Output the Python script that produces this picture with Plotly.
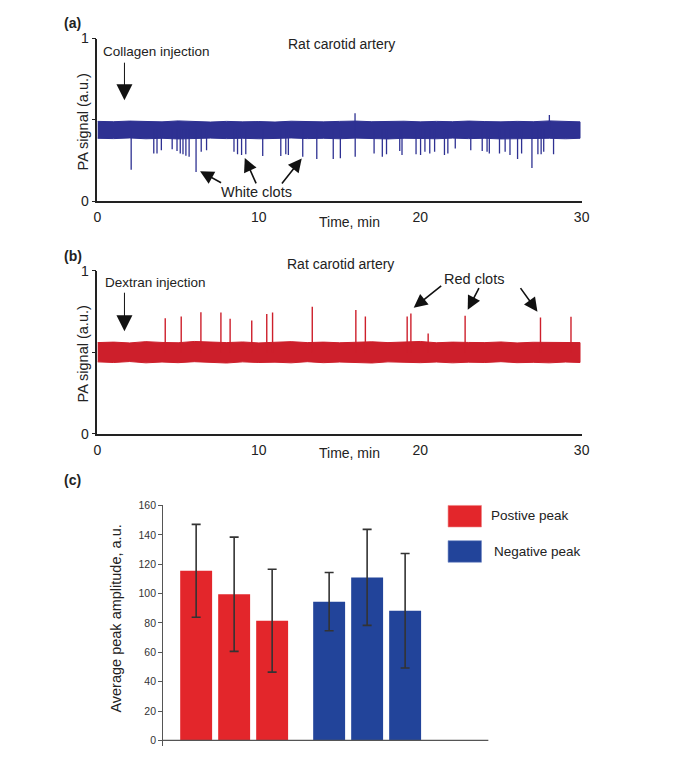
import plotly.graph_objects as go

# Page is 688x774; the HTML body keeps its default 8px margin, so the figure is
# made 16px smaller and every page-pixel position is shifted by that margin.
PAGE_W, PAGE_H = 688, 774
OFF = 8
W, H = PAGE_W - 2 * OFF, PAGE_H - 2 * OFF
FONT = "Liberation Sans, Arial, sans-serif"

# ---------------- data ----------------
# Panel (a): white clots (negative spikes) on a noisy baseline
env_t = [0, 1, 2, 3, 4, 5, 6, 7, 8, 9, 10, 11, 12, 13, 14, 15, 16, 17, 18, 19,
         20, 21, 22, 23, 24, 25, 26, 27, 28, 29, 29.9]
band_a_top = [0.490, 0.488, 0.492, 0.489, 0.487, 0.493, 0.488, 0.486, 0.490, 0.487,
              0.489, 0.486, 0.491, 0.488, 0.487, 0.490, 0.492, 0.488, 0.489, 0.491,
              0.487, 0.490, 0.488, 0.492, 0.489, 0.487, 0.490, 0.488, 0.493, 0.489, 0.487]
band_a_bot = [0.386, 0.384, 0.388, 0.383, 0.386, 0.382, 0.385, 0.387, 0.384, 0.386,
              0.383, 0.385, 0.388, 0.384, 0.386, 0.383, 0.387, 0.384, 0.382, 0.386,
              0.385, 0.383, 0.387, 0.384, 0.386, 0.382, 0.385, 0.384, 0.386, 0.383, 0.386]
baseline_a = 0.44
spikes_a_t = [2.09, 3.49, 3.69, 3.96, 4.63, 4.93, 5.13, 5.30, 5.48, 5.68,
              6.11, 6.43, 6.76, 8.46, 8.68, 8.93, 9.19, 10.24, 11.36, 11.67,
              11.83, 12.72, 13.59, 14.61, 15.05, 15.97, 17.14, 17.65, 17.91, 18.73,
              18.87, 19.74, 20.02, 20.29, 20.59, 20.89, 21.50, 21.71, 22.17, 23.13,
              23.84, 24.14, 24.28, 24.91, 25.26, 25.56, 26.03, 26.28, 26.92, 27.29,
              27.49, 27.65, 28.26]
spikes_a_v = [0.193, 0.293, 0.293, 0.313, 0.319, 0.307, 0.293, 0.287, 0.279, 0.273,
              0.179, 0.303, 0.313, 0.303, 0.287, 0.283, 0.287, 0.277, 0.277, 0.287,
              0.283, 0.273, 0.259, 0.259, 0.263, 0.273, 0.293, 0.273, 0.287, 0.307,
              0.283, 0.287, 0.283, 0.303, 0.293, 0.303, 0.283, 0.293, 0.323, 0.313,
              0.307, 0.303, 0.293, 0.293, 0.303, 0.283, 0.259, 0.293, 0.203, 0.287,
              0.287, 0.303, 0.287]
up_a_t = [15.96, 28.0]
up_a_v = [0.540, 0.530]

# Panel (b): red clots (positive spikes)
band_b_top = [0.560, 0.563, 0.558, 0.566, 0.561, 0.559, 0.567, 0.562, 0.560, 0.564,
              0.558, 0.562, 0.566, 0.560, 0.563, 0.559, 0.561, 0.565, 0.560, 0.562,
              0.567, 0.559, 0.563, 0.561, 0.560, 0.564, 0.558, 0.562, 0.561, 0.563, 0.560]
band_b_bot = [0.442, 0.438, 0.444, 0.436, 0.441, 0.437, 0.443, 0.439, 0.435, 0.442,
              0.438, 0.440, 0.436, 0.443, 0.437, 0.441, 0.438, 0.435, 0.442, 0.439,
              0.437, 0.441, 0.436, 0.440, 0.438, 0.443, 0.437, 0.439, 0.436, 0.441, 0.438]
baseline_b = 0.50
spikes_b_t = [4.20, 5.19, 6.41, 7.65, 8.22, 9.56, 10.49, 10.85, 13.31,
              16.01, 16.60, 19.19, 19.42, 20.49, 22.78, 27.45, 29.34]
spikes_b_v = [0.710, 0.720, 0.746, 0.744, 0.706, 0.696, 0.736, 0.744, 0.780,
              0.760, 0.720, 0.720, 0.738, 0.616, 0.724, 0.714, 0.718]

# Panel (c): average peak amplitude
pos_vals = [115.5, 99.5, 81.5]
pos_err = [31.6, 38.9, 35.0]
neg_vals = [94.5, 111.0, 88.3]
neg_err = [19.8, 32.7, 39.0]
y_ticks_c = [0, 20, 40, 60, 80, 100, 120, 140, 160]
x_ticks_ab = [0, 10, 20, 30]

BLUE_LINE = "#2E3192"
RED_LINE = "#CD1F2B"
RED_BAR = "#E3262B"
BLUE_BAR = "#22449A"


def px_x(p):
    return (p - OFF) / W


def px_y(p):
    return 1 - (p - OFF) / H


def spike_xy(ts, vs, base):
    xs, ys = [], []
    for t, v in zip(ts, vs):
        xs += [t, t, None]
        ys += [base, v, None]
    return xs, ys


fig = go.Figure()

# ---- panel (a) ----
fig.add_trace(go.Scatter(x=env_t + env_t[::-1], y=band_a_top + band_a_bot[::-1],
                         fill="toself", fillcolor=BLUE_LINE, mode="lines",
                         line=dict(color=BLUE_LINE, width=1), xaxis="x", yaxis="y",
                         hoverinfo="skip"))
sx, sy = spike_xy(spikes_a_t, spikes_a_v, baseline_a)
fig.add_trace(go.Scatter(x=sx, y=sy, mode="lines", line=dict(color=BLUE_LINE, width=1.3),
                         xaxis="x", yaxis="y", hoverinfo="skip"))
sx, sy = spike_xy(up_a_t, up_a_v, baseline_a)
fig.add_trace(go.Scatter(x=sx, y=sy, mode="lines", line=dict(color=BLUE_LINE, width=1.3),
                         xaxis="x", yaxis="y", hoverinfo="skip"))

# ---- panel (b) ----
fig.add_trace(go.Scatter(x=env_t + env_t[::-1], y=band_b_top + band_b_bot[::-1],
                         fill="toself", fillcolor=RED_LINE, mode="lines",
                         line=dict(color=RED_LINE, width=1), xaxis="x2", yaxis="y2",
                         hoverinfo="skip"))
sx, sy = spike_xy(spikes_b_t, spikes_b_v, baseline_b)
fig.add_trace(go.Scatter(x=sx, y=sy, mode="lines", line=dict(color=RED_LINE, width=1.4),
                         xaxis="x2", yaxis="y2", hoverinfo="skip"))

# ---- panel (c) ----
group_gap = 0.5
pos_x = [1 + i for i in range(len(pos_vals))]
neg_x = [pos_x[-1] + 1 + group_gap + i for i in range(len(neg_vals))]
err_style = dict(type="data", visible=True, color="#333333", thickness=1.6, width=4.5)
fig.add_trace(go.Bar(x=pos_x, y=pos_vals, width=0.84, marker=dict(color=RED_BAR, line=dict(width=0)),
                     error_y=dict(array=pos_err, **err_style), xaxis="x3", yaxis="y3",
                     name="Postive peak"))
fig.add_trace(go.Bar(x=neg_x, y=neg_vals, width=0.84, marker=dict(color=BLUE_BAR, line=dict(width=0)),
                     error_y=dict(array=neg_err, **err_style), xaxis="x3", yaxis="y3",
                     name="Negative peak"))

axis_ts = dict(showgrid=False, zeroline=False, showline=True, linecolor="#222222",
               linewidth=1.5, tickfont=dict(family=FONT, size=14, color="#222222"))

fig.update_layout(
    width=W, height=H, margin=dict(l=0, r=0, t=0, b=0),
    paper_bgcolor="white", plot_bgcolor="white", showlegend=False,
    font=dict(family=FONT, color="#222222"),
    xaxis=dict(domain=[px_x(95), px_x(588)], range=[0, 30], anchor="y",
               tickvals=x_ticks_ab, ticks="", ticklabelstandoff=2, **axis_ts),
    yaxis=dict(domain=[px_y(197), px_y(31)], range=[0, 1], anchor="x",
               tickvals=[0, 0.5, 1], ticktext=["0", "", "1"], ticks="outside",
               ticklen=4, tickcolor="#222222", tickwidth=1.3, **axis_ts),
    xaxis2=dict(domain=[px_x(95), px_x(588)], range=[0, 30], anchor="y2",
                tickvals=x_ticks_ab, ticks="", ticklabelstandoff=2, **axis_ts),
    yaxis2=dict(domain=[px_y(435), px_y(268.3)], range=[0, 1], anchor="x2",
                tickvals=[0, 0.5, 1], ticktext=["0", "", "1"], ticks="outside",
                ticklen=4, tickcolor="#222222", tickwidth=1.3, **axis_ts),
    xaxis3=dict(domain=[px_x(162), px_x(493)], range=[0.134, 8.69], anchor="y3",
                showgrid=False, zeroline=False, showline=False, showticklabels=False,
                ticks=""),
    yaxis3=dict(domain=[px_y(753.25), px_y(508)], range=[-3.5, 160], anchor="x3",
                tickvals=y_ticks_c, ticks="outside", ticklen=4, tickcolor="#555555",
                tickwidth=1.1, showline=True, linecolor="#555555", linewidth=1.2,
                showgrid=False, zeroline=False,
                tickfont=dict(family=FONT, size=10.5, color="#333333")),
)

# x-axis baseline for panel (c)
fig.add_shape(type="line", xref="paper", yref="y3", x0=px_x(161.5), x1=px_x(493),
              y0=0, y1=0, line=dict(color="#555555", width=1.2))

# legend swatches for panel (c)
fig.add_shape(type="rect", xref="paper", yref="paper", x0=px_x(452), x1=px_x(486),
              y0=px_y(530), y1=px_y(508), fillcolor=RED_BAR, line=dict(width=0.6, color="#f08080"))
fig.add_shape(type="rect", xref="paper", yref="paper", x0=px_x(452), x1=px_x(486),
              y0=px_y(566), y1=px_y(544), fillcolor=BLUE_BAR, line=dict(width=0.6, color="#6f86c4"))


def text(x, y, s, size=14, xanchor="center", bold=False, angle=0):
    fig.add_annotation(x=px_x(x), y=px_y(y), xref="paper", yref="paper",
                       text=f"<b>{s}</b>" if bold else s, showarrow=False,
                       xanchor=xanchor, yanchor="middle", textangle=angle,
                       font=dict(family=FONT, size=size, color="#222222"))


def arrow(hx, hy, tx, ty, head=2, size=1.7, width=1.6):
    fig.add_annotation(x=px_x(hx), y=px_y(hy), xref="paper", yref="paper",
                       ax=tx - hx, ay=ty - hy, axref="pixel", ayref="pixel",
                       text="", showarrow=True, arrowhead=head, arrowsize=size,
                       arrowwidth=width, arrowcolor="#111111")


# panel labels
text(70, 15, "(a)", 14, bold=True)
text(70, 253.5, "(b)", 14, bold=True)
text(70, 481.5, "(c)", 14, bold=True)

# panel (a) texts
text(343, 36.5, "Rat carotid artery", 14)
text(99, 44.5, "Collagen injection", 13.5, xanchor="left")
text(352, 218.5, "Time, min", 14)
text(80, 116, "PA signal (a.u.)", 14.5, angle=-90)
text(257, 188, "White clots", 14.5)
arrow(122.5, 94, 122.5, 55, head=2, size=3.2, width=1.0)
arrow(199.5, 166.5, 222, 179)
arrow(245, 153, 257, 180)
arrow(303, 153.5, 282, 180)

# panel (b) texts
text(342, 261.5, "Rat carotid artery", 14)
text(100.5, 280.5, "Dextran injection", 13.5, xanchor="left")
text(352, 454, "Time, min", 14)
text(80, 353, "PA signal (a.u.)", 14.5, angle=-90)
text(478.5, 276.5, "Red clots", 14.5)
arrow(122.5, 330, 122.5, 290, head=2, size=3.2, width=1.0)
arrow(417, 306, 446, 283)
arrow(472, 308, 484, 285)
arrow(543, 310, 525, 285)

# panel (c) texts
text(113.5, 624, "Average peak amplitude, a.u.", 14.5, angle=-90)
text(494, 518.5, "Postive peak", 13.5, xanchor="left")
text(497, 555, "Negative peak", 13.5, xanchor="left")

fig.write_html("out.html", config={"displayModeBar": False})
